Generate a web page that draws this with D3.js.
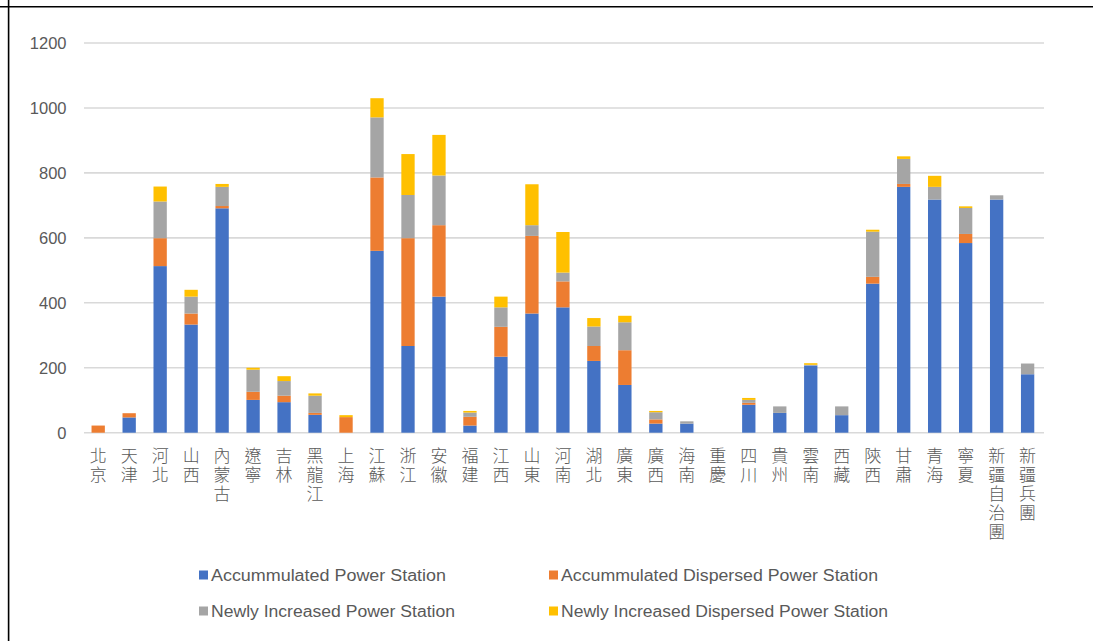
<!DOCTYPE html>
<html>
<head>
<meta charset="utf-8">
<script src="https://cdn.jsdelivr.net/npm/d3@7"></script>
<style>
  html, body { margin: 0; padding: 0; background: #fff; }
  svg { display: block; }
  .xlab { writing-mode: vertical-rl; text-orientation: upright; }
</style>
</head>
<body>
<svg id="chart" width="1093" height="641"></svg>
<script>
const categories = ["北京","天津","河北","山西","內蒙古","遼寧","吉林","黑龍江","上海","江蘇","浙江","安徽","福建","江西","山東","河南","湖北","廣東","廣西","海南","重慶","四川","貴州","雲南","西藏","陝西","甘肅","青海","寧夏","新疆自治團","新疆兵團"];
const accumulatedStation   = [0, 47, 513, 333, 691, 101, 94, 55, 0, 560, 267, 419, 22, 234, 367, 386, 221, 147, 28, 28, 0, 86, 61, 207, 54, 459, 757, 718, 584, 718, 180];
const accumulatedDispersed = [22, 13, 86, 34, 7, 25, 20, 6, 48, 226, 332, 220, 27, 92, 239, 80, 46, 107, 13, 0, 0, 6, 0, 0, 0, 21, 9, 0, 28, 0, 0];
const newStation           = [0, 0, 113, 52, 59, 68, 45, 53, 0, 185, 133, 153, 13, 60, 33, 27, 60, 86, 22, 7, 0, 9, 20, 2, 27, 139, 77, 39, 80, 13, 33];
const newDispersed         = [0, 0, 46, 21, 9, 6, 15, 7, 6, 59, 126, 125, 5, 33, 126, 125, 26, 20, 4, 0, 0, 6, 0, 5, 0, 6, 8, 34, 5, 0, 0];
const seriesNames = ["Accummulated Power Station","Accummulated Dispersed Power Station","Newly Increased Power Station","Newly Increased Dispersed Power Station"];
const seriesColors = ["#4472C4","#ED7D31","#A5A5A5","#FFC000"];
const yTicks = [0, 200, 400, 600, 800, 1000, 1200];

const svg = d3.select("#chart");
const keys = ["a","b","c","d"];
const rows = categories.map((c, i) => ({cat: c, a: accumulatedStation[i], b: accumulatedDispersed[i], c: newStation[i], d: newDispersed[i]}));
const stack = d3.stack().keys(keys)(rows);

const x = d3.scaleBand().domain(categories).range([82.7, 1043.1]).paddingInner(0.57).paddingOuter(0.285);
const y = d3.scaleLinear().domain([0, 1200]).range([432.7, 43]);

// frame lines
svg.append("line").attr("x1", 0).attr("x2", 1093).attr("y1", 6.8).attr("y2", 6.8).attr("stroke", "#000").attr("stroke-width", 1.6);
svg.append("line").attr("x1", 8.6).attr("x2", 8.6).attr("y1", 0).attr("y2", 641).attr("stroke", "#000").attr("stroke-width", 1.6);

// gridlines
svg.append("g").selectAll("line").data(yTicks).join("line")
  .attr("x1", 84).attr("x2", 1044)
  .attr("y1", d => y(d)).attr("y2", d => y(d))
  .attr("stroke", "#d9d9d9").attr("stroke-width", 1.6);

// y labels
svg.append("g").selectAll("text").data(yTicks).join("text")
  .attr("x", 66.5).attr("y", d => y(d)).attr("dy", "0.36em")
  .attr("text-anchor", "end")
  .attr("font-family", "Liberation Sans, Arial, sans-serif")
  .attr("font-size", 16.5).attr("fill", "#595959")
  .text(d => d);

// bars
svg.append("g").selectAll("g").data(stack).join("g")
  .attr("fill", (d, i) => seriesColors[i])
  .selectAll("rect").data(d => d).join("rect")
  .attr("x", d => x(d.data.cat))
  .attr("width", x.bandwidth())
  .attr("y", d => y(d[1]))
  .attr("height", d => Math.max(0, y(d[0]) - y(d[1])));

// x labels (vertical, upright chars)
svg.append("g").selectAll("text").data(categories).join("text")
  .attr("class", "xlab")
  .attr("x", d => x(d) + x.bandwidth() / 2)
  .attr("y", 447)
  .attr("font-family", "Noto Sans CJK TC, Noto Sans CJK SC, sans-serif")
  .attr("font-size", 17).attr("font-weight", 300)
  .attr("letter-spacing", 2)
  .attr("fill", "#595959")
  .text(d => d);

// legend
const legendPos = [[199, 575], [549, 575], [199, 611], [549, 611]];
const legendLen = [235, 317, 244, 327];
const lg = svg.append("g").selectAll("g").data(seriesNames).join("g")
  .attr("transform", (d, i) => `translate(${legendPos[i][0]},${legendPos[i][1]})`);
lg.append("rect").attr("x", 0).attr("y", -4.5).attr("width", 9).attr("height", 9)
  .attr("fill", (d, i) => seriesColors[i]);
lg.append("text").attr("x", 12).attr("y", 0).attr("dy", "0.36em")
  .attr("font-family", "Liberation Sans, Arial, sans-serif")
  .attr("font-size", 16).attr("fill", "#595959")
  .attr("textLength", (d, i) => legendLen[i]).attr("lengthAdjust", "spacingAndGlyphs")
  .text(d => d);
</script>
</body>
</html>
